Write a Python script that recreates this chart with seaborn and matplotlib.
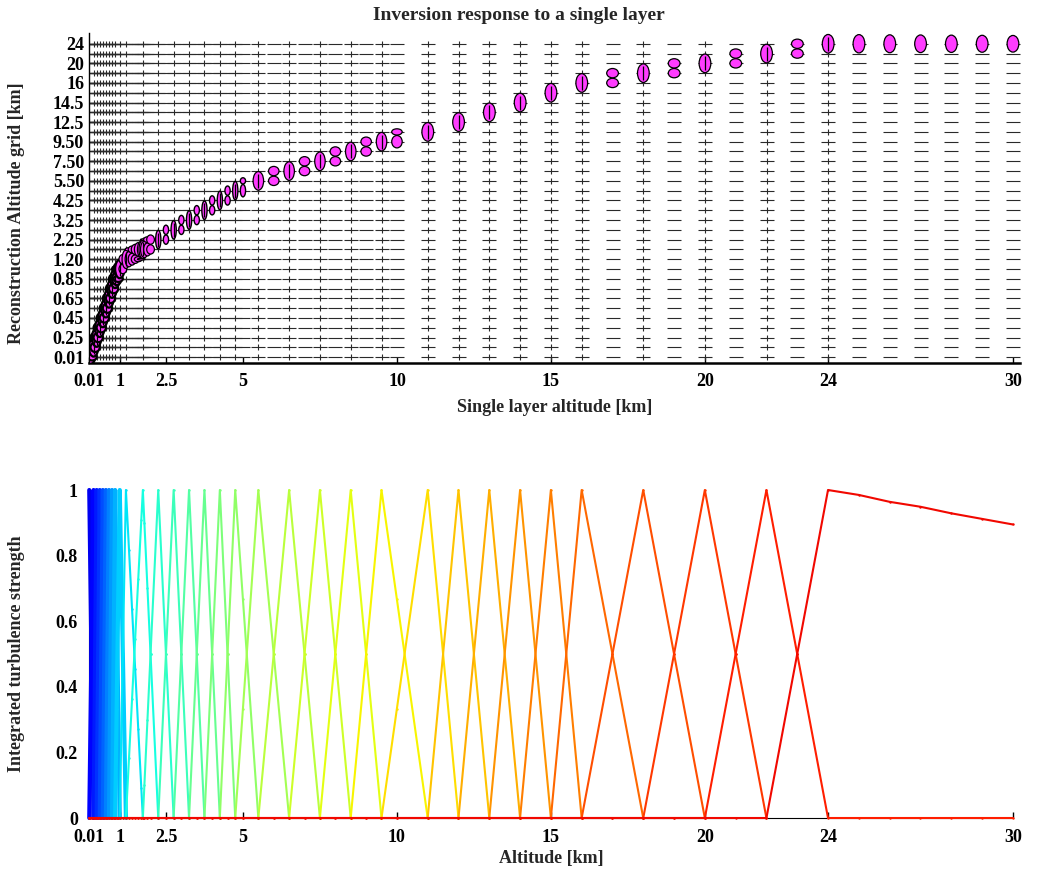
import numpy as np
import pandas as pd
import matplotlib
matplotlib.use('Agg')
import matplotlib.pyplot as plt
import seaborn as sns
from matplotlib.patches import Ellipse

# reconstruction altitude grid [km] (33 layers)
grid_alt = [0.01, 0.15, 0.25, 0.35, 0.45, 0.55, 0.65, 0.75, 0.85, 1.0,
            1.2, 1.75, 2.25, 2.75, 3.25, 3.75, 4.25, 4.75,
            5.5, 6.5, 7.5, 8.5, 9.5, 11, 12, 13, 14, 15, 16, 18, 20, 22, 24]
grid_labels = ['0.01', '0.25', '0.45', '0.65', '0.85', '1.20', '2.25', '3.25', '4.25',
               '5.50', '7.50', '9.50', '12.5', '14.5', '16', '20', '24']

# single layer altitudes that were tested [km]
layer_fine = [0.01, 0.05, 0.1, 0.15, 0.2, 0.25, 0.3, 0.35, 0.4, 0.45, 0.5,
              0.55, 0.6, 0.65, 0.7, 0.75, 0.8, 0.85, 0.9, 0.95, 1.0]
layer_mid = [1.1, 1.2, 1.3, 1.4, 1.5, 1.6, 1.7, 1.75, 1.8, 1.9, 2.0]
layer_quarter = [2.25, 2.5, 2.75, 3.0, 3.25, 3.5, 3.75, 4.0, 4.25, 4.5, 4.75, 5.0]
layer_half = [5.5, 6.0, 6.5, 7.0, 7.5, 8.0, 8.5, 9.0, 9.5, 10.0]
layer_km = [11, 12, 13, 14, 15, 16, 17, 18, 19, 20, 21, 22, 23, 24,
            25, 26, 27, 28, 29, 30]

# response of the top (24 km) layer above the grid
tail_alt = [25, 26, 27, 28, 29, 30]
tail_resp = [0.985, 0.964, 0.949, 0.929, 0.912, 0.895]

xticks = [0.01, 1, 2.5, 5, 10, 15, 20, 24, 30]
xtick_labels = ['0.01', '1', '2.5', '5', '10', '15', '20', '24', '30']
yticks_bottom = [0, 0.2, 0.4, 0.6, 0.8, 1]
ytick_labels_bottom = ['0', '0.2', '0.4', '0.6', '0.8', '1']

blocks = [layer_fine, layer_mid, layer_quarter, layer_half, layer_km]
block_width = [0.3, 0.25, 0.17, 0.34, 0.38]   # ellipse width per block [km]
block_edge = [1.6, 0.9, 1.0, 0.9, 0.9]

alts = np.array(sum(blocks, []))
ell_w = np.concatenate([[w] * len(b) for w, b in zip(block_width, blocks)])
ell_lw = np.concatenate([[w] * len(b) for w, b in zip(block_edge, blocks)])
n = len(grid_alt)

# triangular response of each grid layer
resp = np.zeros((n, len(alts)))
for j in range(n):
    xs, ys = [grid_alt[j]], [1.0]
    if j > 0:
        xs.insert(0, grid_alt[j - 1])
        ys.insert(0, 0.0)
    if j < n - 1:
        xs.append(grid_alt[j + 1])
        ys.append(0.0)
    else:
        xs += tail_alt
        ys += tail_resp
    resp[j] = np.interp(alts, xs, ys, left=0, right=0)

sns.set_style('white')
plt.rcParams['font.family'] = ['Liberation Serif', 'DejaVu Serif']
plt.rcParams['font.weight'] = 'bold'
plt.rcParams['axes.labelweight'] = 'bold'

fig = plt.figure(figsize=(10.38, 8.73), dpi=100)
ax1 = fig.add_axes([0.0857, 0.5842, 0.897, 0.378])
ax2 = fig.add_axes([0.0857, 0.0630, 0.890, 0.3757])

# ---- top: inversion response map
is_grid = np.isin(np.round(alts, 3), np.round(grid_alt, 3))
xx, yy = np.meshgrid(alts, np.arange(n))
sns.scatterplot(x=xx.ravel(), y=yy.ravel(), marker='_', s=100, color='#2a2a2a',
                linewidth=0.8, ax=ax1, zorder=1)
gx, gy = np.meshgrid(alts[is_grid], np.arange(n))
sns.scatterplot(x=gx.ravel(), y=gy.ravel(), marker='|', s=25, color='#2a2a2a',
                linewidth=0.8, ax=ax1, zorder=1)

for k, a in enumerate(alts):
    for j in range(n):
        w = resp[j, k]
        if w > 0.01:
            ax1.add_patch(Ellipse((a, j), ell_w[k], w * 1.9, facecolor='#ff3cff',
                                  edgecolor='black', lw=ell_lw[k], zorder=3))
fj, fk = np.nonzero(resp > 0.99)
sns.scatterplot(x=alts[fk], y=fj, marker='|', s=110, color='black',
                linewidth=0.9, ax=ax1, zorder=4)

ax1.set_xlim(0, 30.23)
ax1.set_ylim(-0.6, 33.1)
ax1.set_xticks(xticks, xtick_labels)
ax1.set_yticks(range(0, n, 2), grid_labels)
ax1.set_xlabel('Single layer altitude [km]', fontsize=13, labelpad=7)
ax1.set_ylabel('Reconstruction Altitude grid [km]', fontsize=13)
ax1.yaxis.set_label_coords(-0.069, 0.455)
ax1.tick_params(direction='in', length=4, width=1, labelsize=13,
                bottom=True, left=True, colors='black')
ax1.tick_params(axis='x', pad=7)
for side in ['top', 'right']:
    ax1.spines[side].set_visible(False)
ax1.spines['bottom'].set_linewidth(1.8)
ax1.spines['left'].set_linewidth(1.0)
for sp in ax1.spines.values():
    sp.set_color('black')

# ---- bottom: response per reconstruction layer
df = pd.DataFrame({'alt': np.tile(alts, n), 'resp': resp.ravel(),
                   'layer': np.repeat(np.arange(n), len(alts))})
# the zero baseline is carried by the two top layers; others keep only their triangle
support = np.zeros_like(resp, dtype=bool)
support[:, 1:] |= resp[:, :-1] > 0
support[:, :-1] |= resp[:, 1:] > 0
support |= resp > 0
support[-2:] = True
df = df[support.ravel()]

cmap = plt.get_cmap('jet')
pal = {j: cmap(0.1 + 0.8 * j / (n - 1)) for j in range(n)}
widths = {j: (3.0 if grid_alt[j] <= 1.0 else 1.5) for j in range(n)}
sns.lineplot(data=df, x='alt', y='resp', hue='layer', palette=pal,
             size='layer', sizes=widths, legend=False,
             estimator=None, sort=False, marker='.', ms=3.5, mew=0,
             ax=ax2, clip_on=False, zorder=3)

ax2.set_xlim(0, 30)
ax2.set_ylim(0, 1)
ax2.set_xticks(xticks, xtick_labels)
ax2.set_yticks(yticks_bottom, ytick_labels_bottom)
ax2.set_xlabel('Altitude [km]', fontsize=13, labelpad=3)
ax2.set_ylabel('Integrated turbulence strength', fontsize=13)
ax2.yaxis.set_label_coords(-0.069, 0.5)
ax2.tick_params(direction='in', length=4, width=1, labelsize=13,
                bottom=True, left=True, colors='black', pad=8)
for side in ['top', 'right']:
    ax2.spines[side].set_visible(False)
for sp in ax2.spines.values():
    sp.set_color('black')

fig.text(0.5, 1 - 15 / 873, 'Inversion response to a single layer', ha='center',
         va='center', fontsize=14, weight='bold')

fig.savefig('out.png', dpi=100)
